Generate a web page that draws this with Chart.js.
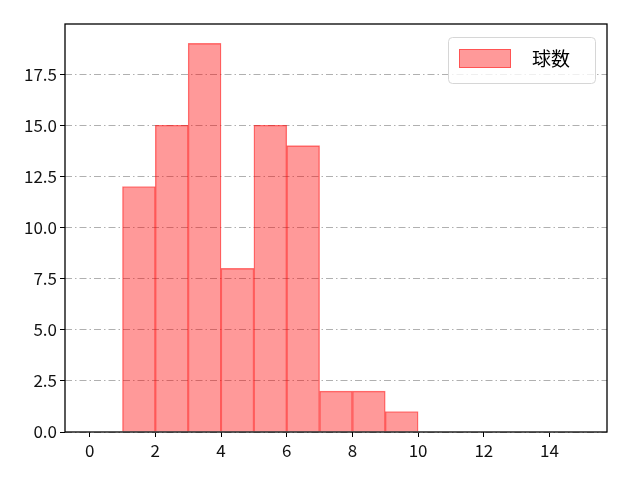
<!DOCTYPE html>
<html>
<head>
<meta charset="utf-8">
<script src="https://cdn.jsdelivr.net/npm/chart.js@4/dist/chart.umd.min.js"></script>
<style>
  html, body { margin: 0; padding: 0; background: #fff; }
  #wrap { width: 640px; height: 480px; }
</style>
</head>
<body>
<div id="wrap"><canvas id="chart" width="640" height="480"></canvas></div>
<script>
// datos del histograma (inicio de cada clase, ancho 1)
const binStarts = [1, 2, 3, 4, 5, 6, 7, 8, 9];
const counts = [12, 15, 19, 8, 15, 14, 2, 2, 1];
const xTicks = [0, 2, 4, 6, 8, 10, 12, 14];
const yTicks = [0, 2.5, 5, 7.5, 10, 12.5, 15, 17.5];
const seriesLabel = '球数';

const FONT = '"Noto Sans CJK JP", "DejaVu Sans", sans-serif';

const points = binStarts.map((s, i) => ({ x: s + 0.5, y: counts[i] }));

// marco y leyenda al estilo matplotlib
const framePlugin = {
    id: 'frame',
    afterDraw(chart) {
        const { ctx, chartArea: a } = chart;
        ctx.save();
        ctx.strokeStyle = '#000';
        ctx.lineWidth = 1.3;
        ctx.strokeRect(a.left, a.top, a.right - a.left, a.bottom - a.top);

        // leyenda
        const bx = 448, by = 37, bw = 147, bh = 46;
        ctx.fillStyle = 'rgba(255,255,255,0.8)';
        ctx.strokeStyle = '#d6d6d6';
        ctx.lineWidth = 1;
        ctx.beginPath();
        ctx.roundRect(bx + 0.5, by + 0.5, bw, bh, 4);
        ctx.fill();
        ctx.stroke();
        ctx.fillStyle = 'rgba(255,0,0,0.4)';
        ctx.strokeStyle = 'rgba(255,0,0,0.45)';
        ctx.fillRect(459, 49, 52, 19);
        ctx.strokeRect(459.5, 49.5, 51, 18);
        ctx.fillStyle = '#000';
        ctx.font = '19px ' + FONT;
        ctx.textBaseline = 'middle';
        ctx.fillText(seriesLabel, 532, 59);
        ctx.restore();
    }
};

new Chart(document.getElementById('chart'), {
    type: 'bar',
    data: {
        datasets: [{
            label: seriesLabel,
            data: points,
            backgroundColor: 'rgba(255, 0, 0, 0.4)',
            borderColor: 'rgba(255, 0, 0, 0.5)',
            borderWidth: 0.7,
            barPercentage: 1,
            categoryPercentage: 1
        }]
    },
    options: {
        responsive: false,
        animation: false,
        devicePixelRatio: 1,
        layout: { padding: { left: 0, right: 33, top: 24, bottom: 0 } },
        plugins: {
            legend: { display: false },
            tooltip: { enabled: false }
        },
        scales: {
            x: {
                type: 'linear',
                min: -0.75,
                max: 15.75,
                offset: false,
                afterBuildTicks: s => { s.ticks = xTicks.map(v => ({ value: v })); },
                afterFit: s => { s.height = 48; },
                grid: {
                    offset: false,
                    drawOnChartArea: false,
                    tickColor: '#000',
                    tickLength: 5,
                    tickWidth: 1
                },
                border: { display: false },
                ticks: {
                    color: '#111',
                    font: { family: FONT, size: 17 },
                    padding: 3,
                    maxRotation: 0
                }
            },
            y: {
                min: 0,
                max: 19.95,
                afterBuildTicks: s => { s.ticks = yTicks.map(v => ({ value: v })); },
                afterFit: s => { s.width = 65; },
                grid: {
                    color: '#b0b0b0',
                    lineWidth: 1,
                    tickColor: '#000',
                    tickBorderDash: [],
                    tickLength: 5,
                    tickWidth: 1
                },
                border: { display: false, dash: [7, 3, 1.5, 3] },
                ticks: {
                    color: '#111',
                    font: { family: FONT, size: 17 },
                    padding: 3,
                    callback: v => v.toFixed(1)
                }
            }
        }
    },
    plugins: [framePlugin]
});
</script>
</body>
</html>
